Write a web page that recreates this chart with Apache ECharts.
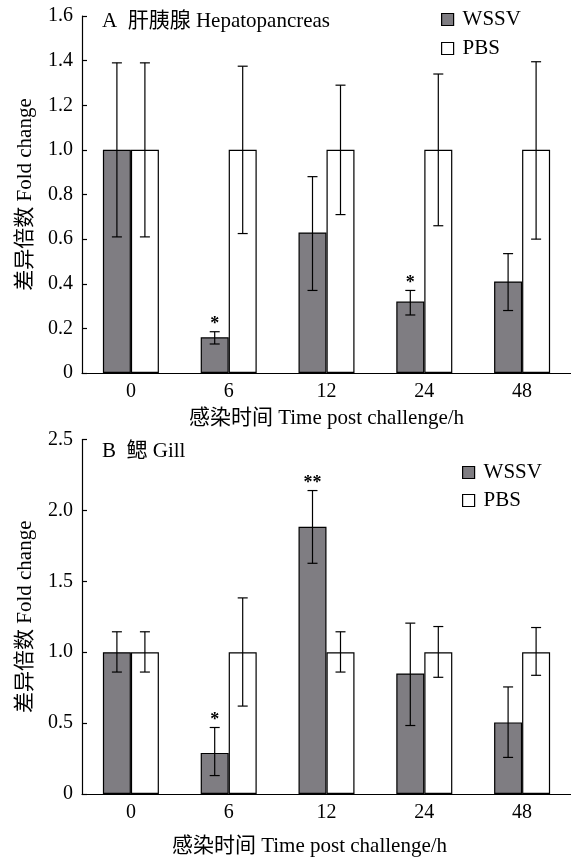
<!DOCTYPE html>
<html>
<head>
<meta charset="utf-8">
<script src="https://cdn.jsdelivr.net/npm/echarts@6/dist/echarts.min.js"></script>
<style>html,body{margin:0;padding:0;background:#fff;}#c{width:571px;height:858px;}</style>
</head>
<body>
<div id="c"></div>
<script>
const categories = ['0', '6', '12', '24', '48'];

// Panel A: Hepatopancreas
const hepWSSV = [1.0, 0.16, 0.63, 0.32, 0.41];
const hepWSSVLow = [0.61, 0.13, 0.37, 0.26, 0.28];
const hepWSSVHigh = [1.39, 0.185, 0.88, 0.37, 0.535];
const hepPBS = [1.0, 1.0, 1.0, 1.0, 1.0];
const hepPBSLow = [0.61, 0.625, 0.71, 0.66, 0.60];
const hepPBSHigh = [1.39, 1.375, 1.29, 1.34, 1.395];
const hepStars = ['', '*', '', '*', ''];
const hepTicks = ['0', '0.2', '0.4', '0.6', '0.8', '1.0', '1.2', '1.4', '1.6'];

// Panel B: Gill
const gillWSSV = [1.0, 0.29, 1.885, 0.85, 0.505];
const gillWSSVLow = [0.86, 0.13, 1.627, 0.483, 0.258];
const gillWSSVHigh = [1.144, 0.469, 2.14, 1.205, 0.755];
const gillPBS = [1.0, 1.0, 1.0, 1.0, 1.0];
const gillPBSLow = [0.86, 0.62, 0.86, 0.823, 0.837];
const gillPBSHigh = [1.144, 1.383, 1.144, 1.181, 1.174];
const gillStars = ['', '*', '**', '', ''];
const gillTicks = ['0', '0.5', '1.0', '1.5', '2.0', '2.5'];

const FONT = '"Liberation Serif", "Times New Roman", "Noto Sans CJK SC", serif';
const GRAY = '#7f7d82';
const BARW = 28;

function errData(low, high, stars) {
  return categories.map((c, i) => [i, low[i], high[i], stars ? stars[i] : '']);
}
function errSeries(name, xi, low, high, stars, side) {
  return {
    type: 'custom', name: name + '_err', xAxisIndex: xi, yAxisIndex: xi, z: 10,
    silent: true,
    data: errData(low, high, stars),
    renderItem: function (params, api) {
      const lo = api.coord([api.value(0), api.value(1)]);
      const hi = api.coord([api.value(0), api.value(2)]);
      const x = lo[0] + side * BARW / 2;
      const cap = 5;
      const st = { stroke: '#000', lineWidth: 1.2 };
      const children = [
        { type: 'line', shape: { x1: x, y1: lo[1], x2: x, y2: hi[1] }, style: st },
        { type: 'line', shape: { x1: x - cap, y1: lo[1], x2: x + cap, y2: lo[1] }, style: st },
        { type: 'line', shape: { x1: x - cap, y1: hi[1], x2: x + cap, y2: hi[1] }, style: st }
      ];
      const star = api.value(3);
      if (star) {
        children.push({
          type: 'text',
          style: { text: star, x: x, y: hi[1] - 7, align: 'center', verticalAlign: 'middle',
            font: 'bold 18px ' + FONT, fill: '#000' }
        });
      }
      return { type: 'group', children: children };
    }
  };
}
function barSeries(name, xi, data, color) {
  return {
    type: 'bar', name: name, xAxisIndex: xi, yAxisIndex: xi, data: data,
    barWidth: BARW, barGap: '0%',
    itemStyle: { color: color, borderColor: '#000', borderWidth: 1.2 },
    emphasis: { disabled: true }
  };
}
function xAxis(gi, gap, nameStyle) {
  return {
    type: 'category', gridIndex: gi, data: categories,
    name: '感染时间 Time post challenge/h', nameLocation: 'middle', nameGap: gap,
    nameTextStyle: Object.assign({ fontFamily: FONT, fontSize: 21, color: '#000' }, nameStyle || {}),
    axisLine: { lineStyle: { color: '#000', width: 1.2 } },
    axisTick: { show: false },
    axisLabel: { fontFamily: FONT, fontSize: 20, color: '#000', margin: 9 }
  };
}
function yAxis(gi, max, interval, ticks) {
  return {
    type: 'value', gridIndex: gi, min: 0, max: max, interval: interval,
    name: '差异倍数 Fold change', nameLocation: 'middle', nameGap: 46, nameRotate: 90,
    nameTextStyle: { fontFamily: FONT, fontSize: 21, color: '#000' },
    axisLine: { show: true, lineStyle: { color: '#000', width: 1.2 } },
    axisTick: { show: true, inside: true, length: 5, lineStyle: { color: '#000', width: 1.2 } },
    splitLine: { show: false },
    axisLabel: { fontFamily: FONT, fontSize: 20, color: '#000', margin: 9,
      formatter: function (v) { const i = Math.round(v / interval); return ticks[i]; } }
  };
}
const legendCommon = {
  orient: 'vertical', icon: 'rect', itemWidth: 12, itemHeight: 12, padding: 0,
  textStyle: { fontFamily: FONT, fontSize: 21, color: '#000', padding: [0, 0, 0, 4] },
  itemStyle: { borderColor: '#000', borderWidth: 1.2 },
  selectedMode: false, data: ['WSSV', 'PBS']
};

const chart = echarts.init(document.getElementById('c'), null, { renderer: 'canvas' });
chart.setOption({
  animation: false,
  backgroundColor: '#fff',
  title: [
    { text: 'A  肝胰腺 Hepatopancreas', left: 97, top: 6,
      textStyle: { fontFamily: FONT, fontSize: 21, fontWeight: 'normal', color: '#000' } },
    { text: 'B  鳃 Gill', left: 97, top: 436,
      textStyle: { fontFamily: FONT, fontSize: 21, fontWeight: 'normal', color: '#000' } }
  ],
  legend: [
    Object.assign({ left: 441, top: 9, itemGap: 8 }, legendCommon),
    Object.assign({ left: 462, top: 462, itemGap: 7 }, legendCommon)
  ],
  grid: [
    { left: 82, top: 16, width: 490, height: 357 },
    { left: 82, top: 439.5, width: 490, height: 355.5 }
  ],
  xAxis: [xAxis(0, 35), xAxis(1, 42, { padding: [0, 34, 0, 0] })],
  yAxis: [yAxis(0, 1.6, 0.2, hepTicks), yAxis(1, 2.5, 0.5, gillTicks)],
  series: [
    barSeries('WSSV', 0, hepWSSV, GRAY),
    barSeries('PBS', 0, hepPBS, '#fff'),
    errSeries('WSSV', 0, hepWSSVLow, hepWSSVHigh, hepStars, -1),
    errSeries('PBS', 0, hepPBSLow, hepPBSHigh, null, 1),
    barSeries('WSSV', 1, gillWSSV, GRAY),
    barSeries('PBS', 1, gillPBS, '#fff'),
    errSeries('WSSV', 1, gillWSSVLow, gillWSSVHigh, gillStars, -1),
    errSeries('PBS', 1, gillPBSLow, gillPBSHigh, null, 1)
  ]
});
</script>
</body>
</html>
